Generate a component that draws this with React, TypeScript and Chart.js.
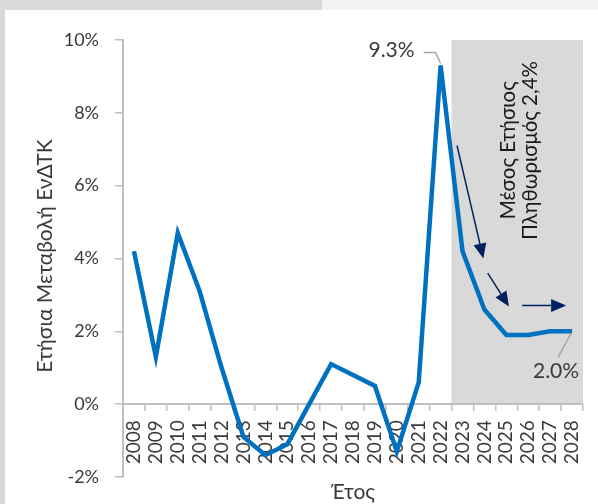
import { useEffect, useRef } from "react";
import { Chart, registerables } from "chart.js";

Chart.register(...registerables);

// Annual change of the HICP (%), actual values and projections
const years = [
  "2008", "2009", "2010", "2011", "2012", "2013", "2014", "2015", "2016", "2017", "2018",
  "2019", "2020", "2021", "2022", "2023", "2024", "2025", "2026", "2027", "2028",
];
const inflation = [
  4.2, 1.3, 4.7, 3.1, 1.0, -0.9, -1.4, -1.1, 0.0, 1.1, 0.8,
  0.5, -1.3, 0.6, 9.3, 4.2, 2.6, 1.9, 1.9, 2.0, 2.0,
];
const forecastStart = "2023";
const labelledYears = ["2022", "2028"];
const yMin = -2;
const yMax = 10;
const yStep = 2;

const FONT = "Lato, 'Noto Sans', sans-serif";
const TEXT = "#3a3a3a";
const AXIS = "#bfbfbf";
const LINE = "#0070c0";
const NAVY = "#002060";

const fmtPct = (v: number) => v.toFixed(1) + "%";

function arrow(ctx: CanvasRenderingContext2D, x1: number, y1: number, x2: number, y2: number) {
  const ang = Math.atan2(y2 - y1, x2 - x1);
  const headLen = 15;
  const headHalf = 6.5;
  const bx = x2 - headLen * Math.cos(ang);
  const by = y2 - headLen * Math.sin(ang);
  ctx.beginPath();
  ctx.moveTo(x1, y1);
  ctx.lineTo(bx, by);
  ctx.stroke();
  ctx.beginPath();
  ctx.moveTo(x2, y2);
  ctx.lineTo(bx + headHalf * Math.sin(ang), by - headHalf * Math.cos(ang));
  ctx.lineTo(bx - headHalf * Math.sin(ang), by + headHalf * Math.cos(ang));
  ctx.closePath();
  ctx.fill();
}

const decor = {
  id: "decor",
  beforeDraw(chart: any) {
    const { ctx, width, height, chartArea, scales } = chart;
    const x = scales.x;
    const y = scales.y;
    ctx.save();
    ctx.fillStyle = "#ffffff";
    ctx.fillRect(0, 0, width, height);
    ctx.fillStyle = "#d9d9d9";
    ctx.fillRect(0, 0, 322, 10);
    ctx.fillRect(0, 0, 5, height);
    ctx.fillStyle = "#f2f2f2";
    ctx.fillRect(322, 0, width - 322, 10);

    // projection period
    const i0 = years.indexOf(forecastStart);
    const half = (x.getPixelForValue(1) - x.getPixelForValue(0)) / 2;
    const left = x.getPixelForValue(i0) - half;
    const top = y.getPixelForValue(yMax);
    const bottom = y.getPixelForValue(0);
    ctx.fillStyle = "#d9d9d9";
    ctx.fillRect(left, top, chartArea.right - left, bottom - top);
    ctx.restore();
  },
  afterDraw(chart: any) {
    const { ctx, chartArea, scales } = chart;
    const x = scales.x;
    const y = scales.y;
    const px = (i: number) => x.getPixelForValue(i);
    const py = (v: number) => y.getPixelForValue(v);
    ctx.save();

    // value callouts
    ctx.font = `21px ${FONT}`;
    ctx.fillStyle = TEXT;
    ctx.strokeStyle = "#a6a6a6";
    ctx.lineWidth = 1.5;
    const iPeak = years.indexOf(labelledYears[0]);
    const pX = px(iPeak);
    const pY = py(inflation[iPeak]);
    ctx.beginPath();
    ctx.moveTo(pX, pY - 2);
    ctx.lineTo(pX - 5, pY - 13);
    ctx.lineTo(pX - 17, pY - 13);
    ctx.stroke();
    ctx.textAlign = "right";
    ctx.textBaseline = "middle";
    ctx.fillText(fmtPct(inflation[iPeak]), pX - 26, pY - 15);

    const iLast = years.indexOf(labelledYears[1]);
    const lX = px(iLast);
    const lY = py(inflation[iLast]);
    ctx.beginPath();
    ctx.moveTo(lX - 1, lY + 2);
    ctx.lineTo(lX - 14, lY + 26);
    ctx.stroke();
    ctx.textAlign = "center";
    ctx.fillText(fmtPct(inflation[iLast]), lX - 16, lY + 40);

    // direction arrows over the projection period
    ctx.strokeStyle = NAVY;
    ctx.fillStyle = NAVY;
    ctx.lineWidth = 1.5;
    const arrows: [number, number, number, number][] = [
      [14.75, 7.1, 15.95, 4.0],
      [16.15, 3.6, 17.12, 2.68],
      [17.72, 2.71, 19.73, 2.71],
    ];
    for (const [a, b, c, d] of arrows) arrow(ctx, px(a), py(b), px(c), py(d));

    // average inflation note
    ctx.fillStyle = "#1a1a1a";
    ctx.font = `20.5px ${FONT}`;
    ctx.textAlign = "center";
    ctx.textBaseline = "middle";
    const note = ["Μέσος Ετήσιος", "Πληθωρισμός 2,4%"];
    note.forEach((t, k) => {
      ctx.save();
      ctx.translate(px(17.08 + k), py(6.97));
      ctx.rotate(-Math.PI / 2);
      ctx.fillText(t, 0, 0);
      ctx.restore();
    });

    // axis titles
    ctx.fillStyle = TEXT;
    ctx.font = `21px ${FONT}`;
    ctx.save();
    ctx.translate(45, 256);
    ctx.rotate(-Math.PI / 2);
    ctx.fillText("Ετήσια Μεταβολή ΕνΔΤΚ", 0, 0);
    ctx.restore();
    ctx.fillText("Έτος", (chartArea.left + chartArea.right) / 2, 492);
    ctx.restore();
  },
};

export default function App() {
  const ref = useRef<HTMLCanvasElement>(null);

  useEffect(() => {
    if (!ref.current) return;
    const chart = new Chart(ref.current, {
      type: "line",
      data: {
        labels: years,
        datasets: [
          {
            data: inflation,
            borderColor: LINE,
            borderWidth: 4.5,
            pointRadius: 0,
            tension: 0,
          },
        ],
      },
      options: {
        responsive: false,
        animation: false,
        layout: { padding: { top: 40, right: 15, bottom: 27, left: 0 } },
        plugins: {
          legend: { display: false },
          tooltip: { enabled: false },
        },
        scales: {
          x: {
            type: "category",
            position: { y: 0 },
            offset: true,
            grid: {
              offset: true,
              drawOnChartArea: false,
              drawTicks: true,
              tickLength: 6,
              color: AXIS,
              lineWidth: 1.5,
            },
            border: { display: true, color: AXIS, width: 2 },
            ticks: {
              autoSkip: false,
              minRotation: 90,
              maxRotation: 90,
              padding: 10,
              color: TEXT,
              font: { family: FONT, size: 19 },
            },
            afterFit: (s: any) => {
              s.height = 0;
              s.paddingLeft = 0;
              s.paddingRight = 0;
            },
          },
          y: {
            min: yMin,
            max: yMax,
            ticks: {
              stepSize: yStep,
              padding: 16,
              color: TEXT,
              font: { family: FONT, size: 18 },
              callback: (v: any) => v + "%",
            },
            grid: {
              drawOnChartArea: false,
              drawTicks: true,
              tickLength: 8,
              color: AXIS,
              lineWidth: 1.5,
            },
            border: { display: true, color: AXIS, width: 2 },
            afterFit: (s: any) => {
              s.width = 123;
            },
          },
        },
      },
      plugins: [decor],
    });
    return () => chart.destroy();
  }, []);

  return (
    <div style={{ position: "absolute", left: 0, top: 0, width: 598, height: 504 }}>
      <canvas ref={ref} width={598} height={504} style={{ display: "block" }} />
    </div>
  );
}
